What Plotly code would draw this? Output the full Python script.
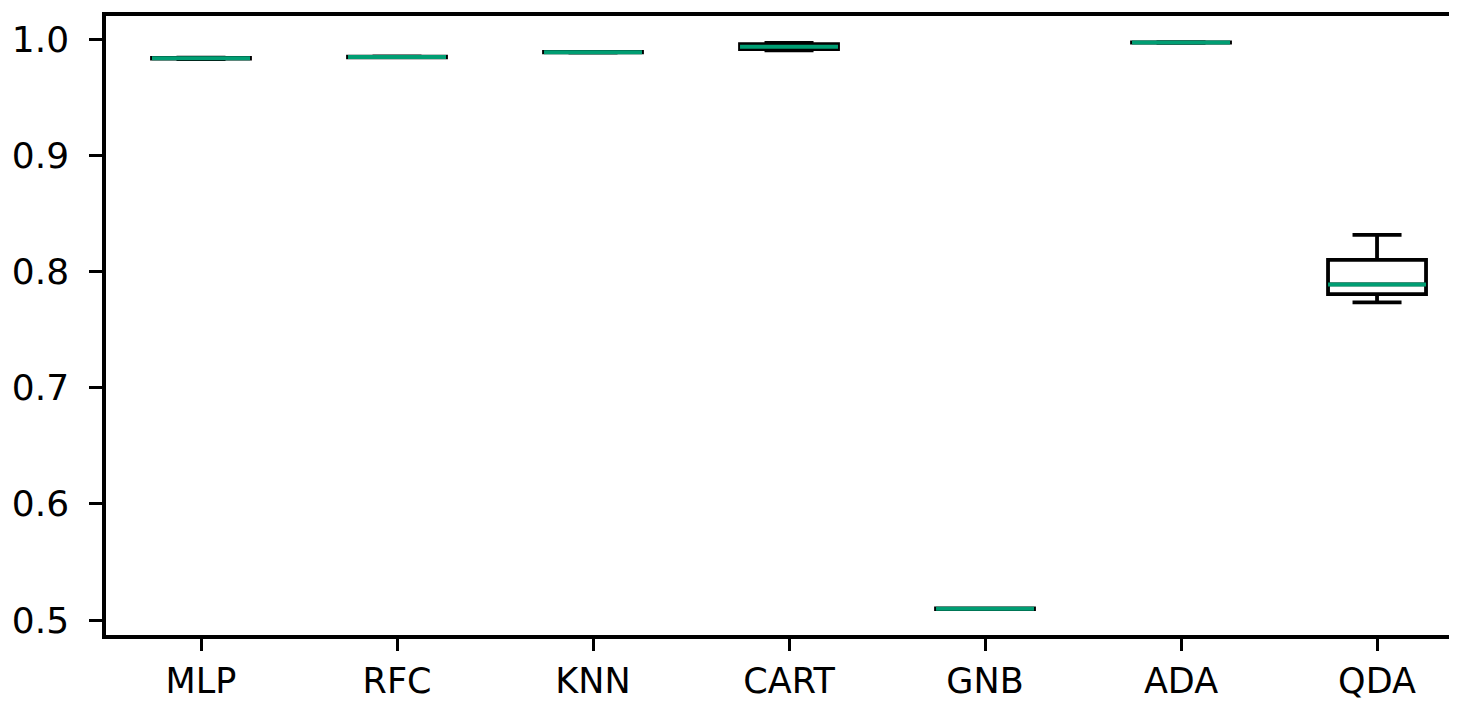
import plotly.graph_objects as go

categories = ["MLP", "RFC", "KNN", "CART", "GNB", "ADA", "QDA"]
lower_whisker = [0.9830, 0.9843, 0.9884, 0.9905, 0.5093, 0.9968, 0.7735]
q1_values     = [0.9833, 0.9845, 0.9886, 0.9915, 0.5095, 0.9970, 0.7806]
median_values = [0.9837, 0.9848, 0.9888, 0.9935, 0.5097, 0.9971, 0.7889]
q3_values     = [0.9840, 0.9851, 0.9890, 0.9958, 0.5099, 0.9973, 0.8100]
upper_whisker = [0.9842, 0.9853, 0.9892, 0.9968, 0.5101, 0.9975, 0.8315]
y_ticks = [0.5, 0.6, 0.7, 0.8, 0.9, 1.0]

positions = list(range(len(categories)))
box_width = 0.5
green = "#009E73"

fig = go.Figure()
fig.add_trace(go.Box(
    x=positions,
    q1=q1_values, median=median_values, q3=q3_values,
    lowerfence=lower_whisker, upperfence=upper_whisker,
    width=box_width, whiskerwidth=0.5,
    fillcolor="rgba(0,0,0,0)",
    line=dict(color="black", width=3.8),
    boxpoints=False, hoverinfo="skip", showlegend=False,
))

# median lines in green
mx, my = [], []
for p, m in zip(positions, median_values):
    mx += [p - box_width / 2, p + box_width / 2, None]
    my += [m, m, None]
fig.add_trace(go.Scatter(x=mx, y=my, mode="lines",
                         line=dict(color=green, width=4),
                         hoverinfo="skip", showlegend=False))

font = dict(family="DejaVu Sans", size=35, color="black")
fig.update_layout(
    width=1449, height=693,
    margin=dict(l=98, r=0, t=8, b=64),
    paper_bgcolor="white", plot_bgcolor="white",
    showlegend=False,
    font=font,
)
fig.update_xaxes(
    range=[-0.4847, 6.408],
    tickmode="array", tickvals=positions, ticktext=categories,
    showline=True, linecolor="black", linewidth=3.5, mirror=True,
    ticks="outside", ticklen=12, tickwidth=3, tickcolor="black",
    showgrid=False, zeroline=False, tickfont=font,
)
fig.update_yaxes(
    range=[0.4871, 1.02],
    tickmode="array", tickvals=y_ticks, ticktext=[f"{t:.1f}" for t in y_ticks],
    showline=True, linecolor="black", linewidth=3.5, mirror=False,
    ticks="outside", ticklen=13, tickwidth=3, tickcolor="black",
    ticklabelstandoff=13,
    showgrid=False, zeroline=False, tickfont=dict(family="DejaVu Sans", size=36, color="black"),
)
fig.write_html("out.html")
